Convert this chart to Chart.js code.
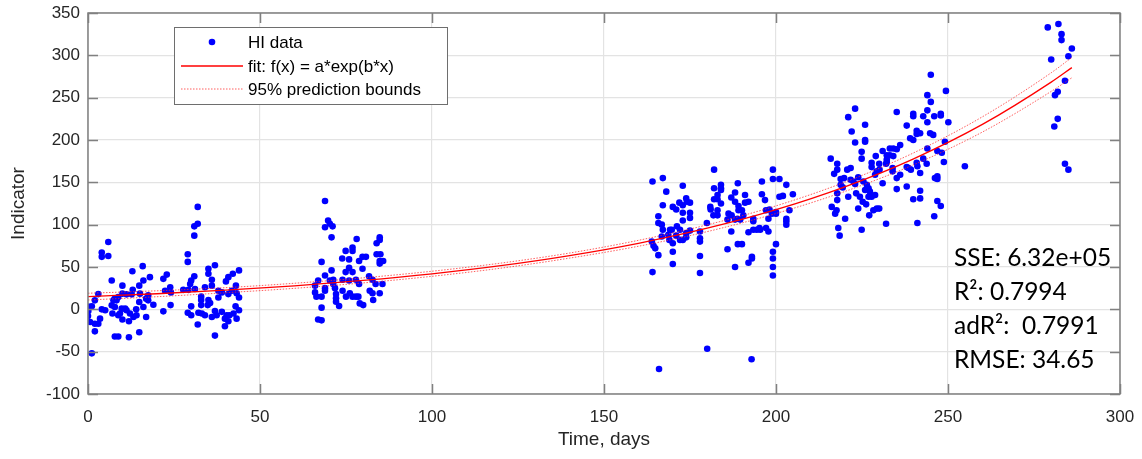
<!DOCTYPE html>
<html>
<head>
<meta charset="utf-8">
<script src="https://cdn.jsdelivr.net/npm/chart.js@4/dist/chart.umd.min.js"></script>
<style>
html,body{margin:0;padding:0;background:#fff;}
#wrap{width:1142px;height:459px;position:relative;}
</style>
</head>
<body>
<div id="wrap"><canvas id="c" width="1142" height="459"></canvas></div>
<script>
// ---- data ----
const xTickValues = [0, 50, 100, 150, 200, 250, 300];
const yTickValues = [-100, -50, 0, 50, 100, 150, 200, 250, 300, 350];

// HI data, grouped by measurement campaign: [day, indicator]
const hiGroup1 = [[5.9,79.5],[4.0,67],[4.0,62],[5.9,63],[12.9,45],[15.9,51],[6.9,34],[10.0,28],[16.1,34],[18.0,38],[21.9,36],[3.0,18],[13.0,23],[14.9,28],[15.1,18.5],[0.3,3],[1.1,3.5],[2.0,10.6],[0.1,-2],[0,-8],[0.6,-15],[2.0,-17],[3.0,-17],[2.0,-26],[4.0,0],[5.0,-1],[3.5,-11],[7.4,10.6],[8.3,10.6],[6.9,4.7],[7.8,2.8],[7.1,-5],[8.8,-7],[9.3,-5],[9.8,0.8],[10.8,0.8],[10.0,-12],[11.2,-1],[12.2,-5],[13.2,-9],[11.9,-14],[14.1,-7],[14.0,0],[14.9,8.7],[16.1,2.8],[16.9,-9],[7.8,-32],[8.8,-32],[11.9,-33],[14.9,-27],[1.1,-52],[17.5,10.6],[17.5,16.5],[21.9,-2.4],[19.0,5.5],[10.0,18.5],[11.2,17.7],[12.7,17.7],[16.9,12.6],[8.8,14.6],[7.8,12.6]];
const hiGroup2 = [[31.9,121],[31.9,101],[30.9,98],[30.9,87],[29.0,65],[29.0,56],[36.9,52],[35.0,48],[35.0,42],[30.9,39],[30.0,34],[29.7,30],[36.0,35],[36.0,28],[43.9,46],[42.1,42],[40.8,38],[40.1,33],[43.0,28],[22.9,41],[23.9,26],[24.1,20],[22.4,22],[27.7,23],[29.2,23],[31.1,24],[34.0,26],[37.9,22],[38.9,20],[41.8,22],[43.2,19],[32.9,15],[32.9,11],[35.0,11],[35.5,7.5],[37.9,14],[40.8,18],[43.9,14],[24.0,5],[30.0,3.5],[32.9,5],[34.8,5],[42.9,3.5],[43.9,-1],[36.9,-2],[38.9,-3],[29.0,-4],[30.0,-7],[32.1,-4],[33.1,-5],[34.0,-7],[36.0,-9],[37.4,-7],[40.3,-7],[41.1,-7],[42.3,-5],[39.8,-11],[43.2,-11],[40.8,-14],[39.8,-20],[31.9,-18],[36.9,-31]];
const hiGroup3 = [[68.9,128],[69.8,105],[70.3,101],[68.9,97],[71.1,98],[70.8,85],[67.9,56],[74.9,69],[76.9,73],[76.9,69],[78.1,83],[73.9,60],[75.9,59],[78.8,57],[79.8,62],[80.8,62],[84.8,85],[84.8,82],[83.9,78],[83.9,65],[85.0,65],[84.8,57],[84.8,54],[85.8,57],[74.9,44],[75.9,49],[76.9,44],[79.8,48],[70.8,46],[68.9,40],[66.9,34],[71.3,35],[70.3,34],[71.3,30],[68.9,25],[71.8,25],[74.0,35],[75.9,34],[77.9,35],[78.8,30],[81.7,39],[82.7,35],[83.6,30],[85.6,30],[66.0,28],[66.0,20],[66.4,15],[67.9,15],[68.9,22],[72.1,18],[72.1,13],[72.1,9],[74.0,22],[75.0,15],[76.1,19],[76.9,15],[77.9,15],[78.6,15],[79.0,7],[80.0,5],[81.9,22],[82.7,19],[82.9,11],[84.8,19],[73.0,4],[67.9,2],[66.9,-12],[67.9,-13]];
const hiGroup4 = [[164.1,151],[167.1,155],[182.0,165],[199.1,165],[199.1,154],[201.0,154],[203.0,147],[195.9,151],[188.9,149],[184.0,147],[184.0,143],[184.0,141],[182.0,143],[172.9,146],[168.1,139],[183.0,135],[182.0,130],[183.0,130],[180.9,121],[181.0,118],[184.0,125],[188.1,138],[187.0,132],[188.1,127],[189.1,117],[191.0,135],[192.0,127],[191.0,126],[189.1,122],[195.9,136],[196.8,129],[197.1,117],[198.1,118],[200.0,115],[200.0,113],[201.0,133],[202.0,134],[204.9,136],[203.9,117],[203.0,107],[203.0,104],[203.0,100],[167.1,123],[170.0,121],[171.0,118],[171.9,126],[172.9,123],[173.9,131],[174.1,127],[175.0,126],[175.0,114],[175.0,108],[172.9,114],[172.9,105],[171.2,98],[172.1,94],[171.0,87],[172.9,82],[172.1,82],[173.9,90],[175.0,93],[173.9,85],[165.8,110],[165.8,102],[166.8,100],[167.1,94],[166.8,86],[168.7,88],[169.7,94],[169.2,94],[169.0,82],[170.0,78],[177.9,92],[177.9,84],[177.9,80],[179.9,102],[181.8,111],[183.0,117],[183.0,111],[185.9,106],[186.2,113],[187.1,111],[188.1,106],[188.8,107],[190.1,117],[190.5,111],[189.6,106],[193.4,107],[193.4,104],[195.4,94],[194.4,94],[195.2,96],[197.1,96],[197.8,92],[197.8,107],[198.8,113],[193.4,94],[192.0,91],[187.0,92],[163.9,80],[164.4,75],[164.9,72],[165.8,64],[170.0,68],[170.0,53.5],[164.1,44],[177.9,63],[177.9,43],[185.9,71],[188.9,77],[190.1,77],[188.1,50],[192.0,55],[193.0,60],[193.0,62],[199.1,68],[200.0,77],[199.1,60],[199.1,50],[199.1,40],[166.0,-70.5],[180.0,-46.5],[192.9,-59]];
const hiGroup5 = [[245.0,277],[249.4,258],[244.0,253],[245.0,245],[223.0,237],[221.0,227],[235.1,233],[239.9,231],[239.9,228],[244.0,235],[246.0,228],[247.9,231],[247.9,229],[244.0,221],[250.1,221],[242.8,228],[222.0,210],[225.9,218],[225.9,200],[225.9,198],[223.0,197],[238.0,217],[239.0,202],[239.9,200],[240.9,211],[241.9,208],[240.9,207],[244.8,208],[245.7,206],[249.1,198],[224.9,186],[224.9,178],[231.0,187],[233.1,190],[234.1,190],[235.1,189],[236.1,194],[232.2,182],[233.1,182],[234.1,181],[232.2,177],[232.2,174],[232.0,172],[215.9,178],[217.8,172],[217.8,165],[216.9,160],[220.7,165],[221.7,167],[227.8,173],[227.8,168],[229.0,181],[230.0,172],[229.3,163],[228.8,159],[230.1,165],[242.8,178],[243.8,172],[244.0,190],[246.9,187],[248.2,185],[248.8,174],[254.9,169],[238.0,168],[238.5,167],[239.2,165],[240.9,173],[241.1,169],[233.9,167],[233.9,163],[236.1,159],[235.1,155],[241.9,161],[218.8,154],[219.8,155],[221.7,153],[222.5,151],[223.9,156],[223.0,148],[218.8,147],[219.4,144],[225.4,151],[226.4,147],[225.9,141],[226.9,143],[227.3,139],[224.4,133],[223.3,137],[226.9,133],[227.8,133],[228.8,135],[231.0,149],[235.1,142],[238.0,145],[241.9,140],[246.2,155],[246.9,157],[246.9,154],[217.8,137],[221.0,133],[217.8,129],[216.2,121],[217.6,117],[217.2,113],[225.2,127],[226.2,124],[223.9,119],[228.3,117],[229.3,119],[230.0,119],[227.1,111],[220.1,107],[239.9,130],[241.9,131],[246.9,128],[247.9,122],[246.0,110],[218.1,96],[224.9,94],[232.0,101],[241.1,102],[218.5,87]];
const hiGroup6 = [[279.0,333],[282.1,337],[283.0,325],[283.0,318],[286.0,308],[285.0,299],[280.0,295],[284.0,270],[281.9,257],[281.1,253],[281.9,225],[280.9,216],[284.0,172],[285.0,165]];

// fitted curve and its bounds, read at these days
const fitDays  = [0, 20, 40, 60, 80, 100, 120, 140, 160, 180, 200, 220, 240, 260, 280, 286];
const fitValues   = [15, 18.4, 22.6, 27.8, 34.2, 42.0, 51.6, 63.5, 78.0, 95.8, 117.7, 144.7, 177.8, 218.4, 268.4, 285.5];
const upperValues = [19, 21.9, 25.6, 30.8, 37.2, 45.0, 54.6, 66.5, 81.5, 99.8, 122.2, 150.2, 184.8, 227.4, 279.4, 297.5];
const lowerValues = [11, 14.9, 19.6, 24.8, 31.2, 39.0, 48.6, 60.5, 74.5, 91.8, 113.2, 139.2, 170.8, 209.4, 257.4, 273.5];

const legendLabels = ['HI data', 'fit: f(x) = a*exp(b*x)', '95% prediction bounds'];
const statLines = ['SSE: 6.32e+05', 'R\u00B2: 0.7994', 'adR\u00B2:  0.7991', 'RMSE: 34.65'];
const xTitle = 'Time, days';
const yTitle = 'Indicator';

// ---- build ----
const hiPoints = [].concat(hiGroup1, hiGroup2, hiGroup3, hiGroup4, hiGroup5, hiGroup6).map(p => ({x: p[0], y: p[1]}));
const curve = vals => fitDays.map((d, i) => ({x: d, y: vals[i]}));

const BLUE = '#0000ff';
const RED = '#ff0000';
const BOUND = 'rgba(255,40,40,0.75)';
const AXIS_FONT = '"Liberation Sans", Arial, sans-serif';

const zeroPad = s => { s.paddingTop = 0; s.paddingBottom = 0; s.paddingLeft = 0; s.paddingRight = 0; };

const framePlugin = {
  id: 'frame',
  afterDraw(chart) {
    const {ctx, chartArea: a, scales} = chart;
    const xs = scales.x, ys = scales.y;
    ctx.save();
    // axes box with inward ticks on all four sides
    ctx.strokeStyle = '#808080';
    ctx.lineWidth = 1.5;
    ctx.strokeRect(a.left, a.top, a.right - a.left, a.bottom - a.top);
    const tl = 10;
    ctx.beginPath();
    xTickValues.forEach(v => {
      const px = Math.round(xs.getPixelForValue(v)) + 0.5;
      ctx.moveTo(px, a.bottom); ctx.lineTo(px, a.bottom - tl);
      ctx.moveTo(px, a.top); ctx.lineTo(px, a.top + tl);
    });
    yTickValues.forEach(v => {
      const py = Math.round(ys.getPixelForValue(v)) + 0.5;
      ctx.moveTo(a.left, py); ctx.lineTo(a.left + tl, py);
      ctx.moveTo(a.right, py); ctx.lineTo(a.right - tl, py);
    });
    ctx.stroke();

    // legend box
    const L = 174.5, T = 27.5, W = 273, H = 77;
    ctx.fillStyle = '#ffffff';
    ctx.fillRect(L, T, W, H);
    ctx.strokeStyle = '#6e6e6e';
    ctx.lineWidth = 1;
    ctx.strokeRect(L, T, W, H);
    const rows = [42, 66, 89];
    ctx.fillStyle = BLUE;
    ctx.beginPath(); ctx.arc(212, rows[0], 3.3, 0, Math.PI * 2); ctx.fill();
    ctx.strokeStyle = RED; ctx.lineWidth = 1.3;
    ctx.beginPath(); ctx.moveTo(181, rows[1]); ctx.lineTo(243, rows[1]); ctx.stroke();
    ctx.strokeStyle = BOUND; ctx.lineWidth = 1; ctx.setLineDash([1.5, 1.5]);
    ctx.beginPath(); ctx.moveTo(181, rows[2]); ctx.lineTo(243, rows[2]); ctx.stroke();
    ctx.setLineDash([]);
    ctx.fillStyle = '#000000';
    ctx.font = '17px ' + AXIS_FONT;
    ctx.textBaseline = 'middle';
    ctx.textAlign = 'left';
    legendLabels.forEach((t, i) => ctx.fillText(t, 248, rows[i] + 1));

    // goodness-of-fit statistics
    ctx.font = '24.5px Lato, "Open Sans", sans-serif';
    ctx.textBaseline = 'alphabetic';
    const baselines = [266, 300, 334, 368];
    statLines.forEach((t, i) => ctx.fillText(t, 954, baselines[i]));
    ctx.restore();
  }
};

new Chart(document.getElementById('c'), {
  type: 'scatter',
  data: {
    datasets: [
      {label: legendLabels[0], data: hiPoints, backgroundColor: BLUE, borderWidth: 0, pointRadius: 3.3, pointHoverRadius: 3.3, order: 2},
      {label: legendLabels[1], data: curve(fitValues), showLine: true, borderColor: RED, borderWidth: 1.3, pointRadius: 0, cubicInterpolationMode: 'monotone', order: 1},
      {label: legendLabels[2], data: curve(upperValues), showLine: true, borderColor: BOUND, borderWidth: 1, borderDash: [1.5, 1.5], pointRadius: 0, cubicInterpolationMode: 'monotone', order: 1},
      {label: '', data: curve(lowerValues), showLine: true, borderColor: BOUND, borderWidth: 1, borderDash: [1.5, 1.5], pointRadius: 0, cubicInterpolationMode: 'monotone', order: 1}
    ]
  },
  options: {
    responsive: false,
    animation: false,
    events: [],
    layout: {padding: {top: 13, right: 22, left: 0, bottom: 0}},
    plugins: {legend: {display: false}, tooltip: {enabled: false}},
    scales: {
      x: {
        type: 'linear', min: 0, max: 300,
        afterBuildTicks: s => { s.ticks = xTickValues.map(v => ({value: v})); },
        afterFit: s => { s.height = 65; zeroPad(s); },
        grid: {color: '#e3e3e3', lineWidth: 1.2, drawTicks: false},
        border: {display: false},
        ticks: {padding: 13, color: '#262626', font: {size: 17, family: AXIS_FONT}, maxRotation: 0},
        title: {display: true, text: xTitle, color: '#262626', font: {size: 19, family: AXIS_FONT}, padding: {top: 0, bottom: 8}}
      },
      y: {
        type: 'linear', min: -100, max: 350,
        afterBuildTicks: s => { s.ticks = yTickValues.map(v => ({value: v})); },
        afterFit: s => { s.width = 88; zeroPad(s); },
        grid: {color: '#e3e3e3', lineWidth: 1.2, drawTicks: false},
        border: {display: false},
        ticks: {padding: 8, color: '#262626', font: {size: 17, family: AXIS_FONT}},
        title: {display: true, text: yTitle, color: '#262626', font: {size: 19, family: AXIS_FONT}, padding: {top: 7, bottom: 0}}
      }
    }
  },
  plugins: [framePlugin]
});
</script>
</body>
</html>
